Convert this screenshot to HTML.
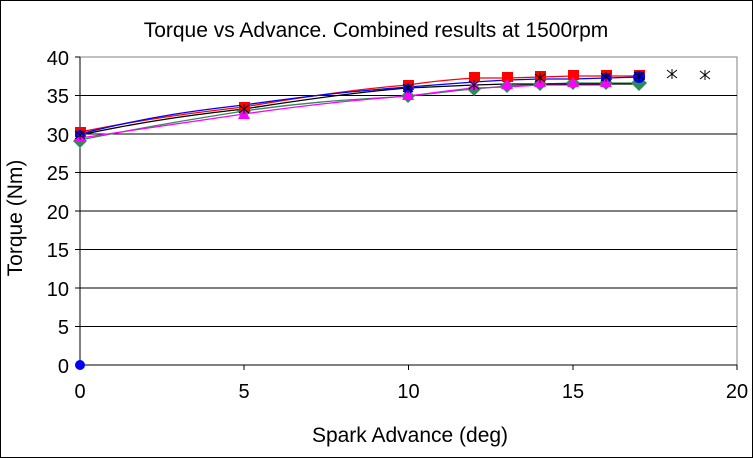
<!DOCTYPE html>
<html><head><style>body{margin:0;background:#fff}svg{display:block}text{font-family:"Liberation Sans",Arial,sans-serif}</style></head><body>
<svg width="753" height="458" viewBox="0 0 753 458" xmlns="http://www.w3.org/2000/svg">
<rect x="0.5" y="0.5" width="752" height="457" fill="#fff" stroke="#000"/>
<text x="376" y="37" font-size="21" text-anchor="middle">Torque vs Advance. Combined results at 1500rpm</text>
<rect x="80" y="57" width="657" height="308" fill="#fff" stroke="#808080"/>
<g stroke="#000" stroke-width="1">
<line x1="80" y1="95.5" x2="737" y2="95.5"/><line x1="80" y1="134" x2="737" y2="134"/>
<line x1="80" y1="172.5" x2="737" y2="172.5"/><line x1="80" y1="211" x2="737" y2="211"/>
<line x1="80" y1="249.5" x2="737" y2="249.5"/><line x1="80" y1="288" x2="737" y2="288"/>
<line x1="80" y1="326.5" x2="737" y2="326.5"/><line x1="80" y1="365" x2="737" y2="365"/>
<line x1="80" y1="57" x2="80" y2="365"/>
<line x1="75" y1="57" x2="80" y2="57"/><line x1="75" y1="95.5" x2="80" y2="95.5"/><line x1="75" y1="134" x2="80" y2="134"/><line x1="75" y1="172.5" x2="80" y2="172.5"/><line x1="75" y1="211" x2="80" y2="211"/><line x1="75" y1="249.5" x2="80" y2="249.5"/><line x1="75" y1="288" x2="80" y2="288"/><line x1="75" y1="326.5" x2="80" y2="326.5"/><line x1="75" y1="365" x2="80" y2="365"/>
<line x1="80" y1="365" x2="80" y2="370"/><line x1="244" y1="365" x2="244" y2="370"/><line x1="408.5" y1="365" x2="408.5" y2="370"/><line x1="573" y1="365" x2="573" y2="370"/><line x1="737" y1="365" x2="737" y2="370"/>
</g>
<g font-size="20" text-anchor="end">
<text x="69" y="65">40</text><text x="69" y="103">35</text><text x="69" y="142">30</text><text x="69" y="180">25</text><text x="69" y="219">20</text><text x="69" y="257">15</text><text x="69" y="296">10</text><text x="69" y="334">5</text><text x="69" y="373">0</text>
</g>
<g font-size="20" text-anchor="middle">
<text x="80" y="398">0</text><text x="244" y="398">5</text><text x="408.5" y="398">10</text><text x="573" y="398">15</text><text x="737" y="398">20</text>
</g>
<text x="410" y="442" font-size="21" text-anchor="middle">Spark Advance (deg)</text>
<text transform="translate(22,218) rotate(-90)" font-size="21" text-anchor="middle">Torque (Nm)</text>
<g fill="none" stroke-width="1.3">
<path stroke="#2e8b57" d="M80,140 C150,126 200,118 244,111 C320,100 370,99 408,96 C440,93 460,90 474,89 L507,86 540,84 573,83 606,83 639,83"/>
<path stroke="#ff00ff" d="M80,138 C150,128 200,120 244,114 C320,103 370,99 408,96 C440,92 460,89 474,88 L507,87 540,85 573,85 606,85"/>
<path stroke="#000" d="M80,135 C150,120 200,114 244,109 C320,97 370,91 408,88 L474,85 507,84 540,84 573,84 606,84 639,84"/>
<path stroke="#f00" d="M80,132 C150,118 200,112 244,107 C320,94 370,88 408,85 C440,80 460,79 474,78 L507,78 540,77 573,76 606,76 639,76"/>
<path stroke="#00f" d="M80,134 C150,116 200,110 244,105 C320,94 370,90 408,87 L474,82 507,80 540,79 573,79 606,78 639,77"/>
</g>
<g fill="#2e8b57">
<path d="M80,134l7,7l-7,7l-7,-7z"/><path d="M244,104l7,7l-7,7l-7,-7z"/><path d="M408,89l7,7l-7,7l-7,-7z"/><path d="M474,82l7,7l-7,7l-7,-7z"/><path d="M507,79l7,7l-7,7l-7,-7z"/><path d="M540,77l7,7l-7,7l-7,-7z"/><path d="M573,76l7,7l-7,7l-7,-7z"/><path d="M606,76l7,7l-7,7l-7,-7z"/><path d="M639,75l8,8l-8,8l-8,-8z"/>
</g>
<g fill="#f00">
<rect x="75" y="127" width="11" height="10"/><rect x="239" y="102" width="11" height="10"/><rect x="403" y="80" width="11" height="10"/><rect x="469" y="72" width="11" height="10"/><rect x="502" y="72" width="11" height="10"/><rect x="535" y="71" width="11" height="10"/><rect x="568" y="70" width="11" height="10"/><rect x="601" y="70" width="11" height="10"/><rect x="634" y="70" width="11" height="10"/>
</g>
<g fill="#00f">
<circle cx="80" cy="135" r="5"/><circle cx="408" cy="89" r="5"/><circle cx="606" cy="78" r="5"/><circle cx="639" cy="77" r="6"/><circle cx="80" cy="365" r="5"/>
</g>
<g fill="#ff00ff">
<path d="M80,132l6,10h-12z"/><path d="M244,108l6,11h-12z"/><path d="M408,89l6,11h-12z"/><path d="M474,80l6,10h-12z"/><path d="M507,79l6,10h-12z"/><path d="M540,77l6,10h-12z"/><path d="M573,77l6,10h-12z"/><path d="M606,77l6,10h-12z"/>
</g>
<g stroke="#000" stroke-width="1">
<path d="M80,130v10M75,131l10,8M75,139l10,-8"/>
<path d="M244,104v10M239,105l10,8M239,113l10,-8"/>
<path d="M408,83v10M403,84l10,8M403,92l10,-8"/>
<path d="M474,80v10M469,81l10,8M469,89l10,-8"/>
<path d="M540,73v10M535,74l10,8M535,82l10,-8"/>
<path d="M606,72v10M601,73l10,8M601,81l10,-8"/>
<path d="M639,71v10M634,72l10,8M634,80l10,-8"/>
<path d="M672,69v10M667,70l10,8M667,78l10,-8"/>
<path d="M705,70v10M700,71l10,8M700,79l10,-8"/>
</g>
</svg>
</body></html>
